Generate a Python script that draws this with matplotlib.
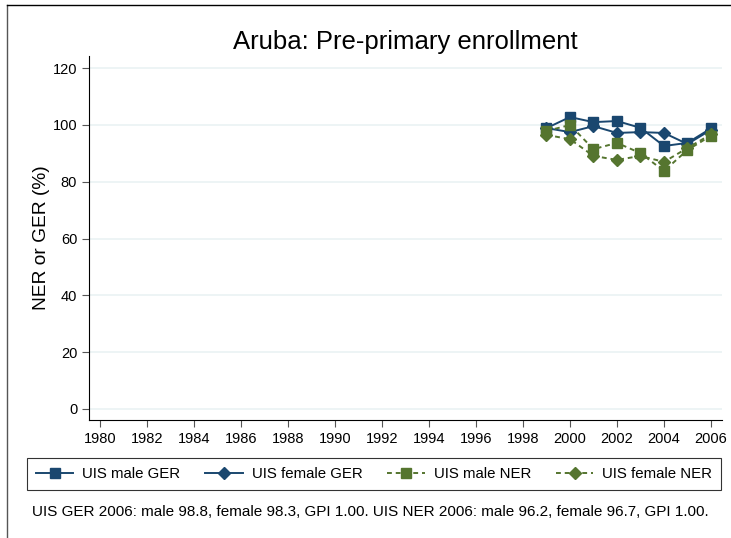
import matplotlib.pyplot as plt
from matplotlib.lines import Line2D

plt.rcParams['font.family'] = ['Liberation Sans', 'DejaVu Sans']

years = [1999, 2000, 2001, 2002, 2003, 2004, 2005, 2006]
male_ger = [98.9, 102.8, 101.0, 101.4, 99.0, 92.6, 93.7, 98.8]
female_ger = [98.9, 97.5, 99.6, 97.2, 97.5, 97.2, 93.3, 98.3]
male_ner = [97.9, 100.0, 91.5, 93.7, 90.1, 83.8, 91.2, 96.2]
female_ner = [96.5, 95.0, 89.1, 87.7, 89.1, 87.0, 91.9, 96.7]

x_ticks = list(range(1980, 2007, 2))
y_ticks = [0, 20, 40, 60, 80, 100, 120]

navy = '#1a476f'
green = '#55752f'

W, H = 731, 538
fig = plt.figure(figsize=(W / 100, H / 100), dpi=100)
ax = fig.add_axes([89 / W, 1 - 420 / H, (722 - 89) / W, (420 - 56) / H])

ax.plot(years, male_ger, color=navy, lw=1.4, marker='s', ms=6.5, label='UIS male GER')
ax.plot(years, female_ger, color=navy, lw=1.4, marker='D', ms=6.5, label='UIS female GER')
ax.plot(years, male_ner, color=green, lw=1.4, ls=(0, (2.5, 2)), marker='s', ms=6.5,
        label='UIS male NER')
ax.plot(years, female_ner, color=green, lw=1.4, ls=(0, (2.5, 2)), marker='D', ms=6.5,
        label='UIS female NER')

ax.set_xlim(1979.53, 2006.47)
ax.set_ylim(-3.9, 124.3)
ax.set_xticks(x_ticks)
ax.set_yticks(y_ticks)
ax.tick_params(labelsize=10.5, length=5, direction='out', color='#555555')
ax.yaxis.grid(True, color='#eaf2f3', lw=1.2)
ax.set_axisbelow(True)
for s in ['top', 'right']:
    ax.spines[s].set_visible(False)
ax.set_ylabel('NER or GER (%)', fontsize=13.8, labelpad=2)
ax.set_title('Aruba: Pre-primary enrollment', fontsize=18.5, pad=5)

leg = fig.legend(loc='center', bbox_to_anchor=((30 + 718) / 2 / W, 1 - 474 / H),
                 ncol=4, fontsize=10.8, frameon=True, fancybox=False, edgecolor='black',
                 handlelength=2.5, handletextpad=0.6, columnspacing=1.65, borderpad=0.6)
leg.get_frame().set_linewidth(0.8)

fig.text(32 / W, 1 - 512 / H,
         'UIS GER 2006: male 98.8, female 98.3, GPI 1.00. UIS NER 2006: male 96.2, female 96.7, GPI 1.00.',
         fontsize=11, va='center', ha='left')

fig.add_artist(Line2D([7 / W, 7 / W], [0, 1 - 5 / H], color='#555555', lw=1))
fig.add_artist(Line2D([7 / W, 1], [1 - 5 / H, 1 - 5 / H], color='black', lw=1))

fig.savefig('out.png', dpi=100)
